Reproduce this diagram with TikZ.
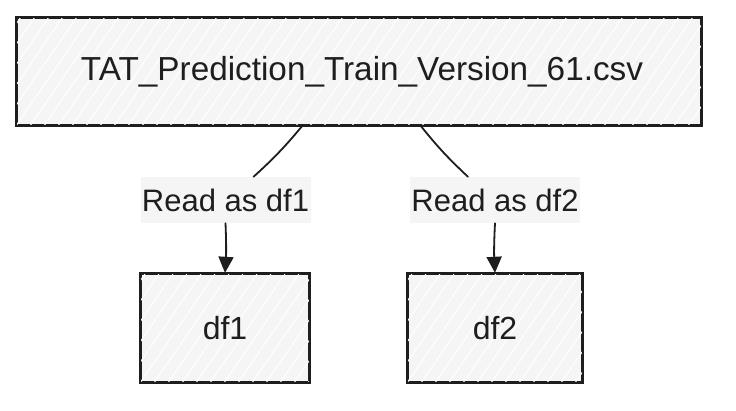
\documentclass[tikz,border=0pt]{standalone}
\usepackage{fontspec}
\setmainfont{Liberation Sans}
\usetikzlibrary{arrows.meta,calc}
\definecolor{ink}{HTML}{1E1E1E}
\definecolor{boxfill}{HTML}{F5F5F5}
\definecolor{labfill}{HTML}{F5F5F5}
\tikzset{
  box/.style={draw=ink, line width=2.4pt, fill=boxfill, inner sep=0pt},
  lab/.style={fill=labfill, minimum width=170pt, minimum height=46pt, inner sep=0pt, text=ink, font=\fontsize{31}{36}\selectfont},
  conn/.style={draw=ink, line width=1.8pt, line cap=round},
  arr/.style={conn, -{Triangle[length=16pt,width=15pt]}},
}
\newcommand{\hatchbox}[1]{%
  \begin{scope}
    \clip (#1.south west) rectangle (#1.north east);
    \foreach \i in {-140,-126,...,700} {
      \draw[white, line width=1pt] ($(#1.south west)+(\i,0)$) -- ++(110,-160);
    }
  \end{scope}
  \draw[ink, line width=2.4pt] (#1.south west) rectangle (#1.north east);
}
\begin{document}
\begin{tikzpicture}[x=1pt,y=-1pt]
\useasboundingbox (0,0) rectangle (736,410);
\fill[white] (0,0) rectangle (736,410);

\node[box, minimum width=684pt, minimum height=107pt] (top) at (359,71.5) {};
\hatchbox{top}
\node[text=ink, font=\fontsize{33.3}{38}\selectfont] (toptext) at (362,71.5) {TAT\_Prediction\_Train\_Version\_61.csv};

\node[box, minimum width=168pt, minimum height=108pt] (d1) at (225,328) {};
\hatchbox{d1}
\node[text=ink, font=\fontsize{32}{38}\selectfont] (d1text) at (d1.center) {df1};

\node[box, minimum width=174pt, minimum height=108pt] (d2) at (495,328) {};
\hatchbox{d2}
\node[text=ink, font=\fontsize{32}{38}\selectfont] (d2text) at (d2.center) {df2};

\node[lab] (l1) at (225.5,200) {Read as df1};
\node[lab] (l2) at (495,200) {Read as df2};

\draw[conn] ([xshift=-57pt]top.south) to[bend left=4] ([xshift=28pt]l1.north);
\draw[conn] ([xshift=62pt]top.south) to[bend right=4] ([xshift=-27pt]l2.north);
\draw[arr] (l1.south) to[bend left=3] (d1.north);
\draw[arr] (l2.south) to[bend right=3] (d2.north);
\end{tikzpicture}
\end{document}
